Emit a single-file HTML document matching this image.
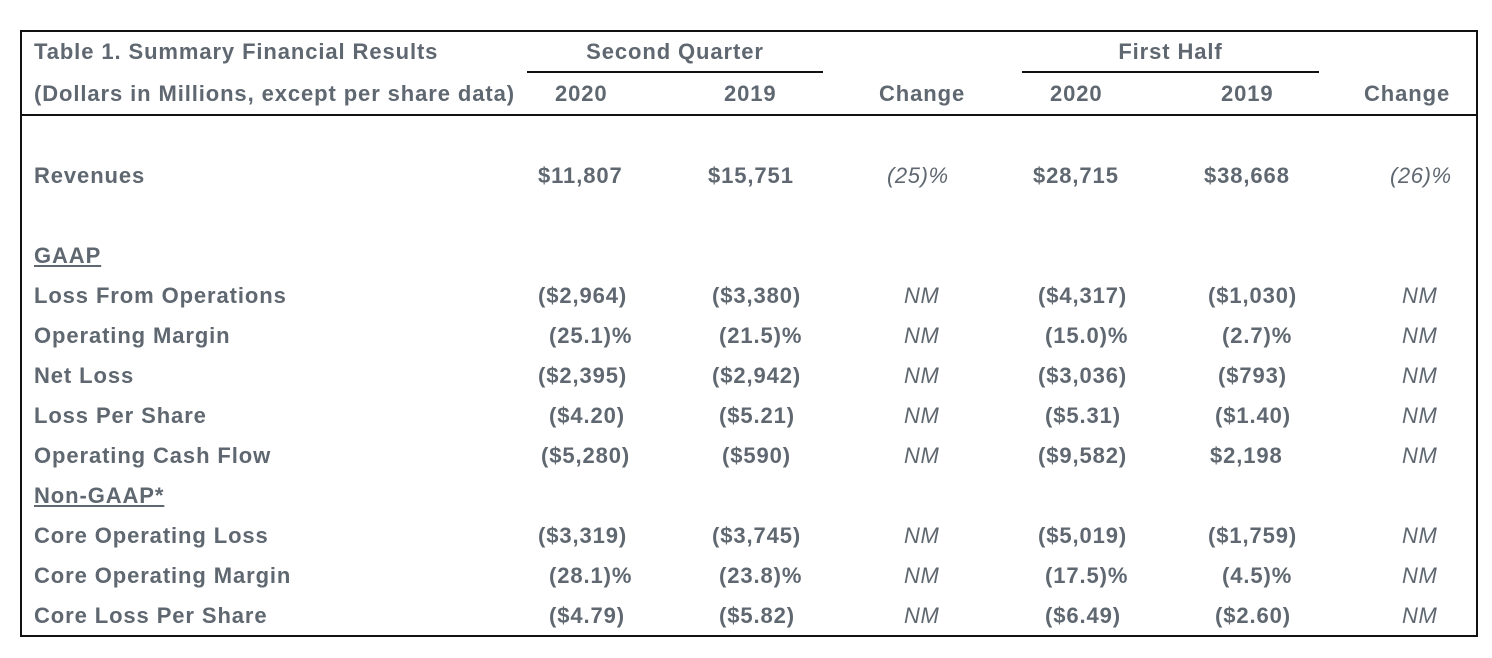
<!DOCTYPE html><html><head><style>
body{margin:0;width:1492px;height:658px;background:#fff;position:relative;font-family:"Liberation Sans",sans-serif;color:#5f6770;overflow:hidden}
.b{position:absolute;border:2px solid #111}
.t{position:absolute;font-weight:bold;font-size:22px;letter-spacing:0.9px;line-height:24px;white-space:nowrap}
.i{position:absolute;font-style:italic;font-size:22px;letter-spacing:0.6px;line-height:24px;white-space:nowrap}
.u{text-decoration:underline}
.l{position:absolute;height:2px;background:#111}
</style></head><body>
<div class="b" style="left:20px;top:30px;width:1454px;height:603px"></div>
<div class="l" style="left:20px;top:114px;width:1458px"></div>
<div class="l" style="left:527px;top:71px;width:296px"></div>
<div class="l" style="left:1022px;top:71px;width:297px"></div>
<div class="t" style="left:34px;top:40px">Table 1. Summary Financial Results</div>
<div class="t" style="left:527px;width:296px;text-align:center;top:40px">Second Quarter</div>
<div class="t" style="left:1022px;width:297px;text-align:center;top:40px">First Half</div>
<div class="t" style="left:34px;top:82px">(Dollars in Millions, except per share data)</div>
<div class="t" style="left:555px;top:82px">2020</div>
<div class="t" style="left:724px;top:82px">2019</div>
<div class="t" style="left:879px;top:82px">Change</div>
<div class="t" style="left:1050px;top:82px">2020</div>
<div class="t" style="left:1221px;top:82px">2019</div>
<div class="t" style="left:1364px;top:82px">Change</div>

<div class="t" style="left:34px;top:164px">Revenues</div>
<div class="t" style="left:538px;top:164px">$11,807</div>
<div class="t" style="left:708px;top:164px">$15,751</div>
<div class="i" style="left:887px;top:164px">(25)%</div>
<div class="t" style="left:1033px;top:164px">$28,715</div>
<div class="t" style="left:1204px;top:164px">$38,668</div>
<div class="i" style="left:1390px;top:164px">(26)%</div>

<div class="t u" style="left:34px;top:244px">GAAP</div>

<div class="t" style="left:34px;top:284px">Loss From Operations</div>
<div class="t" style="left:538px;top:284px">($2,964)</div>
<div class="t" style="left:712px;top:284px">($3,380)</div>
<div class="i" style="left:904px;top:284px">NM</div>
<div class="t" style="left:1038px;top:284px">($4,317)</div>
<div class="t" style="left:1208px;top:284px">($1,030)</div>
<div class="i" style="left:1402px;top:284px">NM</div>

<div class="t" style="left:34px;top:324px">Operating Margin</div>
<div class="t" style="left:549px;top:324px">(25.1)%</div>
<div class="t" style="left:719px;top:324px">(21.5)%</div>
<div class="i" style="left:904px;top:324px">NM</div>
<div class="t" style="left:1045px;top:324px">(15.0)%</div>
<div class="t" style="left:1222px;top:324px">(2.7)%</div>
<div class="i" style="left:1402px;top:324px">NM</div>

<div class="t" style="left:34px;top:364px">Net Loss</div>
<div class="t" style="left:538px;top:364px">($2,395)</div>
<div class="t" style="left:712px;top:364px">($2,942)</div>
<div class="i" style="left:904px;top:364px">NM</div>
<div class="t" style="left:1038px;top:364px">($3,036)</div>
<div class="t" style="left:1218px;top:364px">($793)</div>
<div class="i" style="left:1402px;top:364px">NM</div>

<div class="t" style="left:34px;top:404px">Loss Per Share</div>
<div class="t" style="left:549px;top:404px">($4.20)</div>
<div class="t" style="left:719px;top:404px">($5.21)</div>
<div class="i" style="left:904px;top:404px">NM</div>
<div class="t" style="left:1045px;top:404px">($5.31)</div>
<div class="t" style="left:1215px;top:404px">($1.40)</div>
<div class="i" style="left:1402px;top:404px">NM</div>

<div class="t" style="left:34px;top:444px">Operating Cash Flow</div>
<div class="t" style="left:541px;top:444px">($5,280)</div>
<div class="t" style="left:722px;top:444px">($590)</div>
<div class="i" style="left:904px;top:444px">NM</div>
<div class="t" style="left:1038px;top:444px">($9,582)</div>
<div class="t" style="left:1210px;top:444px">$2,198</div>
<div class="i" style="left:1402px;top:444px">NM</div>

<div class="t u" style="left:34px;top:484px">Non-GAAP*</div>

<div class="t" style="left:34px;top:524px">Core Operating Loss</div>
<div class="t" style="left:538px;top:524px">($3,319)</div>
<div class="t" style="left:712px;top:524px">($3,745)</div>
<div class="i" style="left:904px;top:524px">NM</div>
<div class="t" style="left:1038px;top:524px">($5,019)</div>
<div class="t" style="left:1208px;top:524px">($1,759)</div>
<div class="i" style="left:1402px;top:524px">NM</div>

<div class="t" style="left:34px;top:564px">Core Operating Margin</div>
<div class="t" style="left:549px;top:564px">(28.1)%</div>
<div class="t" style="left:719px;top:564px">(23.8)%</div>
<div class="i" style="left:904px;top:564px">NM</div>
<div class="t" style="left:1045px;top:564px">(17.5)%</div>
<div class="t" style="left:1222px;top:564px">(4.5)%</div>
<div class="i" style="left:1402px;top:564px">NM</div>

<div class="t" style="left:34px;top:604px">Core Loss Per Share</div>
<div class="t" style="left:549px;top:604px">($4.79)</div>
<div class="t" style="left:719px;top:604px">($5.82)</div>
<div class="i" style="left:904px;top:604px">NM</div>
<div class="t" style="left:1045px;top:604px">($6.49)</div>
<div class="t" style="left:1215px;top:604px">($2.60)</div>
<div class="i" style="left:1402px;top:604px">NM</div>
</body></html>
